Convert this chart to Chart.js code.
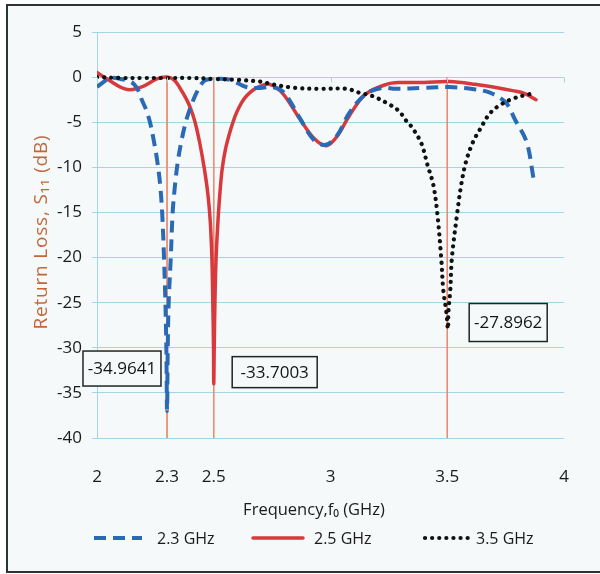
<!DOCTYPE html>
<html>
<head>
<meta charset="utf-8">
<script src="https://cdn.jsdelivr.net/npm/chart.js@4.4.1/dist/chart.umd.min.js"></script>
<style>
  html, body { margin: 0; padding: 0; background: #fff; }
  #frame { position: absolute; left: 6px; top: 4px; width: 600px; height: 565px;
    border-left: 2px solid #2b3433; border-top: 2px solid #2b3433; border-bottom: 2px solid #2b3433;
    background: #f6f9f9; }
  #wrap { position: absolute; left: 0; top: 0; width: 600px; height: 574px; }
</style>
</head>
<body>
<div id="frame"></div>
<div id="wrap"><canvas id="chart-s11" width="600" height="574"></canvas></div>
<script>
// Return loss S11 vs frequency for the three designs
const FONT = '"Open Sans", sans-serif';
const GRID = '#a3d5e4';
const BG = '#f6f9f9';

const xTicks = [2, 2.3, 2.5, 3, 3.5, 4];
const yMin = -40, yMax = 5, yStep = 5;

// 2.3 GHz (dashed blue)
const f23 = [2.00, 2.03, 2.055, 2.10, 2.15, 2.175, 2.19, 2.21, 2.227, 2.245, 2.258, 2.27, 2.279, 2.287,
  2.293, 2.297, 2.300, 2.303, 2.307, 2.316, 2.324, 2.334, 2.347, 2.363, 2.38, 2.397, 2.427, 2.46,
  2.50, 2.57, 2.64, 2.70, 2.75, 2.80, 2.87, 2.93, 2.98, 3.03, 3.08, 3.15, 3.22, 3.28, 3.40, 3.51,
  3.60, 3.68, 3.75, 3.79, 3.84, 3.87];
const s23 = [-1.1, -0.5, -0.1, -0.2, -0.6, -1.4, -2.4, -3.6, -5.0, -7.3, -9.3, -11.8, -15, -20,
  -25, -30, -37, -30, -25, -20, -15, -12, -9.2, -6.9, -5.0, -3.6, -1.7, -0.4,
  -0.2, -0.3, -1.1, -1.2, -1.1, -1.7, -4.6, -7.0, -7.5, -6.4, -4.0, -1.9, -1.2, -1.3, -1.2, -1.1,
  -1.3, -1.7, -2.8, -4.7, -7.2, -11.3];

// 2.5 GHz (solid red)
const f25 = [2.00, 2.055, 2.10, 2.14, 2.20, 2.256, 2.30, 2.33, 2.355, 2.38, 2.40, 2.42, 2.44, 2.46,
  2.475, 2.485, 2.492, 2.496, 2.499, 2.500, 2.502, 2.505, 2.51, 2.518, 2.526, 2.536, 2.55, 2.568,
  2.585, 2.60, 2.62, 2.64, 2.67, 2.70, 2.74, 2.795, 2.87, 2.93, 2.983, 3.03, 3.08, 3.15, 3.24,
  3.30, 3.40, 3.51, 3.62, 3.72, 3.78, 3.83, 3.88];
const s25 = [0.5, -0.4, -1.1, -1.4, -1.0, -0.2, 0.0, -0.3, -1.2, -2.3, -3.4, -5.0, -7.3, -10.2,
  -13, -16, -20, -25, -30, -34, -30, -25, -20, -16, -13, -10.2, -8.0, -6.2,
  -4.8, -3.8, -2.8, -2.1, -1.4, -1.0, -0.8, -1.8, -4.7, -6.8, -7.6, -6.5, -4.3, -1.9, -0.8,
  -0.6, -0.6, -0.5, -0.8, -1.2, -1.5, -1.8, -2.5];

// 3.5 GHz (dotted black)
const f35 = [2.00, 2.10, 2.20, 2.30, 2.40, 2.50, 2.60, 2.70, 2.75, 2.85, 2.95, 3.07, 3.12, 3.18, 3.25,
  3.295, 3.32, 3.35, 3.39, 3.415, 3.44, 3.457, 3.474, 3.483, 3.496, 3.503, 3.505, 3.513, 3.52,
  3.543, 3.56, 3.58, 3.61, 3.64, 3.68, 3.72, 3.78, 3.85, 3.88];
const s35 = [0.0, -0.1, -0.1, -0.1, -0.1, -0.2, -0.3, -0.5, -0.8, -1.2, -1.3, -1.3, -1.7, -2.1, -3.0,
  -3.8, -4.7, -5.6, -7.4, -9.7, -11.9, -15, -20, -23.6, -26, -27.9, -26, -23.6, -20,
  -15, -11.9, -9.4, -7.2, -5.8, -4.1, -3.2, -2.4, -1.9, -1.8];

const seriesNames = ['2.3 GHz', '2.5 GHz', '3.5 GHz'];
const markerF = [2.3, 2.5, 3.5];
const minLabels = ['-34.9641', '-33.7003', '-27.8962'];

// box centres in data units, sizes in px
const labelBoxes = [
  { x: 2.107, y: -32.3, w: 78, h: 35 },
  { x: 2.761, y: -32.7, w: 85, h: 31 },
  { x: 3.761, y: -27.2, w: 78, h: 38 },
];
const legendSlots = [
  { x1: 94, x2: 142, tx: 157 },
  { x1: 253, x2: 303, tx: 314 },
  { x1: 425, x2: 469, tx: 476 },
];

const styles = [
  { color: '#2a69b6', width: 4, dash: [12, 7], cap: 'butt', order: 1 },
  { color: '#d7393d', width: 3.5, dash: [], cap: 'round', order: 2 },
  { color: '#111111', width: 4.2, dash: [0.1, 7], cap: 'round', order: 0 },
];

function toPoints(fs, vs) {
  return fs.map((f, i) => ({ x: f, y: vs[i] }));
}

const curves = [[f23, s23], [f25, s25], [f35, s35]].map(([fs, vs], i) => ({
  label: seriesNames[i],
  data: toPoints(fs, vs),
  borderColor: styles[i].color,
  borderWidth: styles[i].width,
  borderDash: styles[i].dash,
  borderCapStyle: styles[i].cap,
  borderJoinStyle: 'round',
  tension: 0.35,
  pointRadius: 0,
  fill: false,
  order: styles[i].order,
}));

const markers = markerF.map(f => ({
  label: 'marker',
  data: [{ x: f, y: 0 }, { x: f, y: yMin }],
  borderColor: '#ea8a70',
  borderWidth: 1,
  pointRadius: 0,
  order: 5,
}));

const extras = {
  id: 'extras',
  afterDraw(chart) {
    const { ctx, scales: { x, y } } = chart;
    ctx.save();

    // small tick marks on the 0 dB axis line
    ctx.strokeStyle = GRID; ctx.lineWidth = 1;
    const y0 = Math.round(y.getPixelForValue(0)) + 0.5;
    xTicks.forEach(v => {
      const px = Math.round(x.getPixelForValue(v)) + 0.5;
      ctx.beginPath(); ctx.moveTo(px, y0); ctx.lineTo(px, y0 + 5); ctx.stroke();
    });

    // minimum value boxes
    ctx.font = `17px ${FONT}`;
    ctx.textAlign = 'center'; ctx.textBaseline = 'middle';
    minLabels.forEach((t, i) => {
      const b = labelBoxes[i];
      const cx = x.getPixelForValue(b.x), cy = y.getPixelForValue(b.y);
      ctx.fillStyle = BG;
      ctx.fillRect(cx - b.w / 2, cy - b.h / 2, b.w, b.h);
      ctx.strokeStyle = '#1e2623'; ctx.lineWidth = 1.5;
      ctx.strokeRect(cx - b.w / 2, cy - b.h / 2, b.w, b.h);
      ctx.fillStyle = '#151515';
      ctx.fillText(t, cx, cy + 1);
    });

    // axis titles
    ctx.fillStyle = '#1a1a1a';
    ctx.font = `16.5px ${FONT}`;
    ctx.fillText('Frequency,f\u2080 (GHz)', 314, 510);
    ctx.save();
    ctx.translate(42, 232); ctx.rotate(-Math.PI / 2);
    ctx.fillStyle = '#c0683a';
    ctx.font = `19px ${FONT}`;
    ctx.letterSpacing = '0.8px';
    ctx.fillText('Return Loss, S\u2081\u2081 (dB)', 0, 0);
    ctx.restore();

    // legend
    const ly = 538;
    ctx.font = `16px ${FONT}`;
    ctx.textAlign = 'left';
    legendSlots.forEach((s, i) => {
      const st = styles[i];
      ctx.strokeStyle = st.color; ctx.lineWidth = st.width;
      ctx.setLineDash(st.dash); ctx.lineCap = st.cap;
      ctx.beginPath(); ctx.moveTo(s.x1, ly); ctx.lineTo(s.x2, ly); ctx.stroke();
      ctx.setLineDash([]);
      ctx.fillStyle = '#1a1a1a';
      ctx.fillText(seriesNames[i], s.tx, ly + 1);
    });

    ctx.restore();
  }
};

new Chart(document.getElementById('chart-s11'), {
  type: 'line',
  data: { datasets: [...curves, ...markers] },
  plugins: [extras],
  options: {
    responsive: false,
    animation: false,
    layout: { padding: { top: 32, right: 36, left: 0, bottom: 0 } },
    plugins: { legend: { display: false }, tooltip: { enabled: false } },
    scales: {
      x: {
        type: 'linear', min: 2, max: 4,
        afterBuildTicks: s => { s.ticks = xTicks.map(v => ({ value: v })); },
        afterFit: s => { s.height = 136; },
        grid: { display: false, drawTicks: false },
        border: { display: false },
        ticks: { autoSkip: false, maxRotation: 0, padding: 29, color: '#1a1a1a',
          font: { family: FONT, size: 17 }, callback: v => String(v) },
      },
      y: {
        min: yMin, max: yMax,
        afterFit: s => { s.width = 97; },
        grid: { color: GRID, tickLength: 5 },
        border: { color: GRID },
        ticks: { stepSize: yStep, padding: 10, color: '#1a1a1a', font: { family: FONT, size: 17 } },
      },
    },
  },
});
</script>
</body>
</html>
